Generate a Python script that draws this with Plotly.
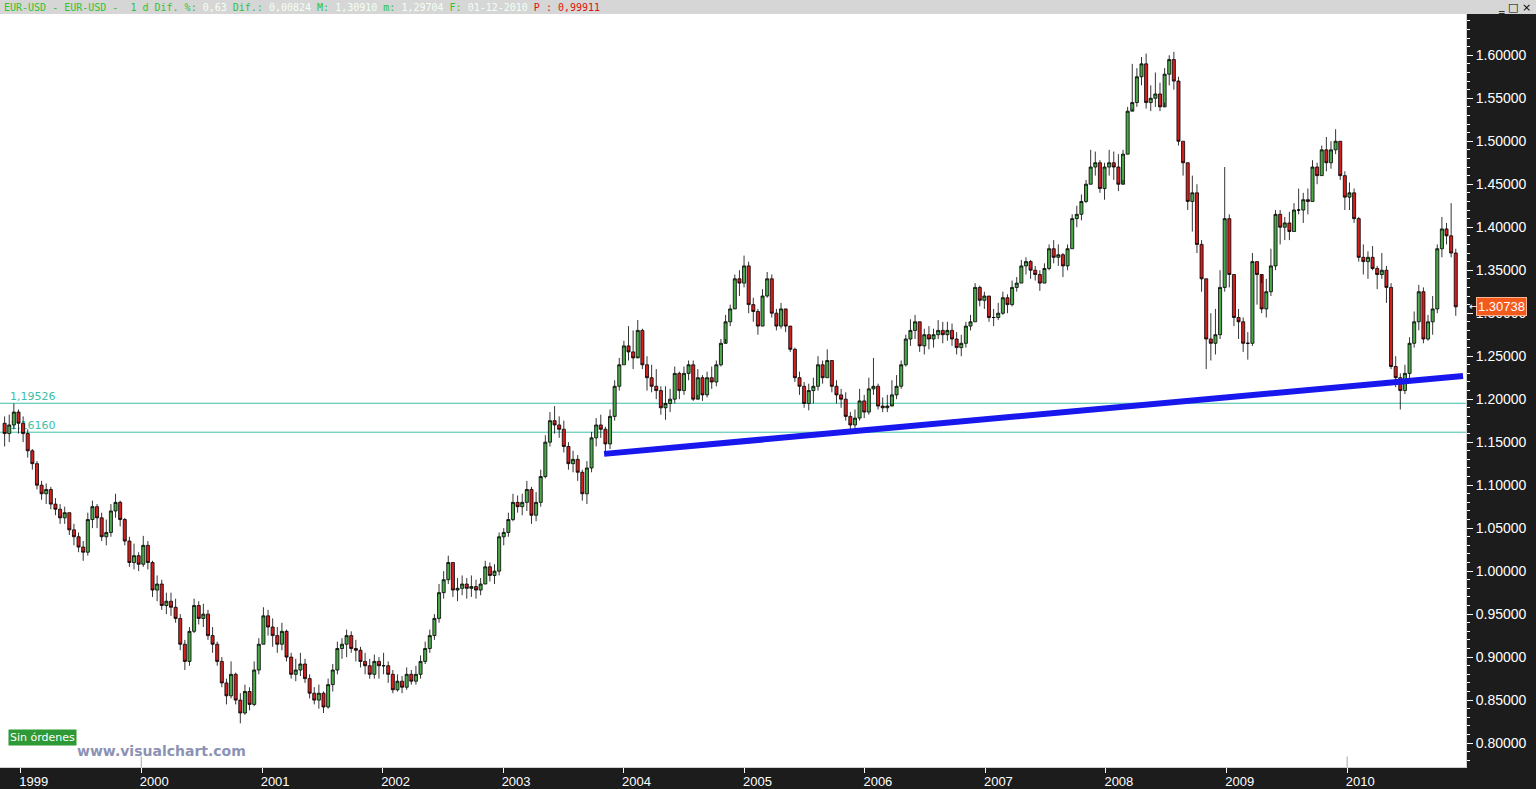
import pandas as pd
import plotly.graph_objects as go

# ---------------- data ----------------
start_date = "1998-11-13"      # first bi-weekly candle
step = "14D"
first_open = 1.172

closes = [
    # 1998
    1.160, 1.170, 1.185, 1.172,
    # 1999
    1.160, 1.140, 1.125, 1.100, 1.090, 1.095, 1.078, 1.072, 1.062, 1.068, 1.048, 1.040, 1.028,
    1.022, 1.060, 1.075, 1.062, 1.040, 1.045, 1.070, 1.080, 1.060, 1.035, 1.010, 1.018, 1.008,
    # 2000
    1.030, 1.010, 0.978, 0.985, 0.960, 0.965, 0.958, 0.945, 0.915, 0.895, 0.930, 0.960, 0.945,
    0.950, 0.925, 0.915, 0.895, 0.870, 0.855, 0.880, 0.850, 0.835, 0.860, 0.845, 0.885, 0.915,
    # 2001
    0.948, 0.935, 0.925, 0.915, 0.930, 0.900, 0.880, 0.885, 0.892, 0.875, 0.858, 0.850, 0.858,
    0.842, 0.868, 0.885, 0.910, 0.915, 0.925, 0.910, 0.908, 0.895, 0.890, 0.880, 0.895, 0.890,
    # 2002
    0.890, 0.880, 0.862, 0.872, 0.865, 0.880, 0.872, 0.880, 0.895, 0.910, 0.925, 0.945, 0.975,
    0.990, 1.010, 0.978, 0.980, 0.985, 0.980, 0.982, 0.978, 0.985, 1.005, 0.995, 1.000, 1.040,
    # 2003
    1.045, 1.060, 1.080, 1.075, 1.080, 1.095, 1.065, 1.080, 1.110, 1.150, 1.175, 1.170, 1.165,
    1.145, 1.125, 1.130, 1.115, 1.090, 1.120, 1.155, 1.170, 1.165, 1.148, 1.180, 1.215, 1.240,
    # 2004
    1.262, 1.255, 1.248, 1.280, 1.240, 1.225, 1.215, 1.210, 1.190, 1.195, 1.200, 1.230, 1.210,
    1.230, 1.240, 1.200, 1.225, 1.205, 1.225, 1.220, 1.240, 1.265, 1.290, 1.305, 1.340, 1.335, 1.355,
    # 2005
    1.310, 1.302, 1.285, 1.320, 1.340, 1.300, 1.285, 1.305, 1.285, 1.258, 1.225, 1.215, 1.195,
    1.210, 1.215, 1.240, 1.225, 1.245, 1.215, 1.205, 1.200, 1.180, 1.170, 1.178, 1.198, 1.185,
    # 2006
    1.212, 1.215, 1.192, 1.190, 1.192, 1.205, 1.215, 1.240, 1.270, 1.280, 1.290, 1.262, 1.275,
    1.270, 1.275, 1.280, 1.275, 1.280, 1.270, 1.260, 1.265, 1.285, 1.290, 1.330, 1.315, 1.320,
    # 2007
    1.295, 1.295, 1.300, 1.318, 1.310, 1.330, 1.335, 1.355, 1.360, 1.350, 1.345, 1.335, 1.352,
    1.375, 1.365, 1.368, 1.355, 1.375, 1.410, 1.415, 1.430, 1.450, 1.470, 1.475, 1.445, 1.470,
    # 2008
    1.475, 1.470, 1.450, 1.485, 1.535, 1.545, 1.575, 1.590, 1.545, 1.550, 1.555, 1.540, 1.578,
    1.595, 1.570, 1.500, 1.475, 1.430, 1.440, 1.380, 1.340, 1.270, 1.265, 1.275, 1.330, 1.410,
    # 2009
    1.345, 1.295, 1.290, 1.265, 1.265, 1.360, 1.345, 1.305, 1.325, 1.355, 1.415, 1.400, 1.405,
    1.395, 1.420, 1.420, 1.432, 1.430, 1.470, 1.460, 1.490, 1.475, 1.490, 1.500, 1.460, 1.435,
    # 2010
    1.440, 1.410, 1.365, 1.360, 1.365, 1.352, 1.345, 1.350, 1.330, 1.238, 1.225, 1.210, 1.230,
    1.265, 1.290, 1.325, 1.270, 1.290, 1.305, 1.375, 1.398, 1.390, 1.370, 1.3074,
]

highs = [
    # 1998
    1.180, 1.182, 1.195, 1.188,
    # 1999
    1.180, 1.165, 1.142, 1.128, 1.105, 1.102, 1.098, 1.085, 1.078, 1.075, 1.068, 1.055, 1.045,
    1.035, 1.068, 1.082, 1.078, 1.068, 1.060, 1.078, 1.090, 1.082, 1.062, 1.040, 1.032, 1.022,
    # 2000
    1.041, 1.035, 1.012, 0.995, 0.990, 0.975, 0.975, 0.968, 0.950, 0.920, 0.935, 0.968, 0.965,
    0.962, 0.955, 0.935, 0.918, 0.900, 0.875, 0.895, 0.882, 0.858, 0.868, 0.865, 0.895, 0.922,
    # 2001
    0.958, 0.955, 0.945, 0.935, 0.940, 0.932, 0.905, 0.898, 0.905, 0.898, 0.880, 0.865, 0.868,
    0.860, 0.875, 0.892, 0.918, 0.922, 0.932, 0.930, 0.920, 0.912, 0.905, 0.898, 0.903, 0.900,
    # 2002
    0.905, 0.895, 0.885, 0.880, 0.878, 0.888, 0.885, 0.890, 0.902, 0.918, 0.932, 0.950, 0.985,
    1.000, 1.018, 1.010, 0.992, 0.995, 0.992, 0.995, 0.990, 0.992, 1.012, 1.010, 1.008, 1.045,
    # 2003
    1.050, 1.068, 1.090, 1.088, 1.090, 1.105, 1.098, 1.092, 1.118, 1.158, 1.185, 1.192, 1.180,
    1.175, 1.150, 1.140, 1.135, 1.118, 1.128, 1.162, 1.178, 1.182, 1.168, 1.188, 1.222, 1.248,
    # 2004
    1.268, 1.285, 1.280, 1.292, 1.282, 1.250, 1.240, 1.235, 1.215, 1.215, 1.212, 1.238, 1.232,
    1.238, 1.245, 1.245, 1.235, 1.228, 1.232, 1.238, 1.245, 1.270, 1.298, 1.310, 1.345, 1.350, 1.367,
    # 2005
    1.360, 1.318, 1.305, 1.328, 1.348, 1.345, 1.305, 1.312, 1.305, 1.285, 1.260, 1.232, 1.220,
    1.218, 1.225, 1.250, 1.245, 1.258, 1.245, 1.222, 1.212, 1.208, 1.185, 1.188, 1.212, 1.205,
    # 2006
    1.225, 1.248, 1.218, 1.202, 1.205, 1.222, 1.228, 1.245, 1.275, 1.293, 1.298, 1.290, 1.282,
    1.285, 1.282, 1.292, 1.290, 1.290, 1.288, 1.278, 1.275, 1.290, 1.298, 1.335, 1.332, 1.325,
    # 2007
    1.320, 1.305, 1.312, 1.325, 1.322, 1.338, 1.342, 1.362, 1.365, 1.362, 1.355, 1.350, 1.358,
    1.380, 1.385, 1.380, 1.370, 1.380, 1.415, 1.425, 1.438, 1.455, 1.490, 1.488, 1.478, 1.475,
    # 2008
    1.490, 1.488, 1.485, 1.490, 1.540, 1.590, 1.585, 1.598, 1.602, 1.565, 1.580, 1.568, 1.585,
    1.600, 1.604, 1.575, 1.500, 1.475, 1.460, 1.450, 1.385, 1.340, 1.300, 1.305, 1.350, 1.470,
    # 2009
    1.415, 1.345, 1.305, 1.295, 1.278, 1.370, 1.360, 1.335, 1.340, 1.375, 1.420, 1.420, 1.412,
    1.418, 1.428, 1.445, 1.440, 1.445, 1.478, 1.475, 1.495, 1.505, 1.500, 1.514, 1.500, 1.465,
    # 2010
    1.452, 1.445, 1.412, 1.380, 1.372, 1.378, 1.355, 1.370, 1.355, 1.335, 1.250, 1.230, 1.240,
    1.272, 1.302, 1.333, 1.330, 1.298, 1.320, 1.380, 1.412, 1.405, 1.428, 1.375,
]

lows = [
    # 1998
    1.145, 1.150, 1.165, 1.160,
    # 1999
    1.150, 1.132, 1.118, 1.095, 1.083, 1.078, 1.072, 1.065, 1.055, 1.055, 1.042, 1.030, 1.022,
    1.012, 1.018, 1.050, 1.050, 1.035, 1.030, 1.040, 1.062, 1.052, 1.030, 1.005, 1.002, 1.000,
    # 2000
    1.005, 1.002, 0.970, 0.965, 0.955, 0.950, 0.948, 0.940, 0.908, 0.885, 0.890, 0.928, 0.938,
    0.935, 0.920, 0.905, 0.890, 0.865, 0.845, 0.852, 0.845, 0.823, 0.833, 0.838, 0.843, 0.880,
    # 2001
    0.915, 0.925, 0.912, 0.905, 0.908, 0.895, 0.875, 0.872, 0.878, 0.870, 0.852, 0.845, 0.840,
    0.835, 0.840, 0.860, 0.880, 0.898, 0.900, 0.905, 0.895, 0.888, 0.880, 0.875, 0.875, 0.875,
    # 2002
    0.880, 0.870, 0.858, 0.860, 0.858, 0.862, 0.868, 0.868, 0.875, 0.892, 0.905, 0.920, 0.940,
    0.968, 0.985, 0.970, 0.965, 0.972, 0.968, 0.970, 0.968, 0.972, 0.985, 0.988, 0.985, 0.995,
    # 2003
    1.030, 1.040, 1.058, 1.068, 1.065, 1.070, 1.055, 1.058, 1.075, 1.108, 1.145, 1.160, 1.155,
    1.138, 1.118, 1.115, 1.105, 1.082, 1.078, 1.115, 1.145, 1.155, 1.137, 1.142, 1.175, 1.210,
    # 2004
    1.240, 1.245, 1.235, 1.250, 1.235, 1.210, 1.208, 1.200, 1.182, 1.176, 1.185, 1.195, 1.200,
    1.205, 1.222, 1.198, 1.205, 1.198, 1.202, 1.212, 1.215, 1.238, 1.270, 1.285, 1.305, 1.320, 1.330,
    # 2005
    1.300, 1.290, 1.275, 1.285, 1.318, 1.295, 1.280, 1.282, 1.278, 1.255, 1.220, 1.205, 1.190,
    1.187, 1.195, 1.210, 1.218, 1.225, 1.208, 1.195, 1.190, 1.175, 1.164, 1.165, 1.175, 1.178,
    # 2006
    1.182, 1.205, 1.188, 1.185, 1.185, 1.195, 1.200, 1.212, 1.238, 1.262, 1.270, 1.255, 1.252,
    1.258, 1.260, 1.270, 1.265, 1.268, 1.262, 1.252, 1.250, 1.260, 1.280, 1.290, 1.308, 1.305,
    # 2007
    1.290, 1.285, 1.292, 1.298, 1.300, 1.308, 1.325, 1.335, 1.345, 1.340, 1.338, 1.326, 1.335,
    1.350, 1.358, 1.355, 1.342, 1.350, 1.375, 1.400, 1.408, 1.428, 1.450, 1.460, 1.440, 1.432,
    # 2008
    1.460, 1.455, 1.442, 1.455, 1.485, 1.538, 1.540, 1.565, 1.538, 1.535, 1.540, 1.535, 1.545,
    1.565, 1.560, 1.495, 1.460, 1.420, 1.395, 1.370, 1.325, 1.235, 1.245, 1.252, 1.270, 1.325,
    # 2009
    1.330, 1.285, 1.270, 1.255, 1.246, 1.262, 1.310, 1.300, 1.295, 1.320, 1.350, 1.380, 1.385,
    1.385, 1.395, 1.415, 1.405, 1.415, 1.430, 1.450, 1.460, 1.465, 1.468, 1.485, 1.455, 1.420,
    # 2010
    1.420, 1.405, 1.360, 1.345, 1.340, 1.350, 1.328, 1.340, 1.312, 1.235, 1.214, 1.188, 1.206,
    1.220, 1.260, 1.280, 1.265, 1.268, 1.275, 1.300, 1.365, 1.380, 1.365, 1.297,
]

year_labels = ["1999", "2000", "2001", "2002", "2003", "2004", "2005",
               "2006", "2007", "2008", "2009", "2010"]
x_range = ["1998-10-30", "2010-12-27"]
y_range = [0.7722, 1.6480]

level_values = [1.19526, 1.16160]
level_labels = ["1,19526", "1,16160"]

trend_dates = ["2003-11-03", "2010-12-18"]
trend_values = [1.1364, 1.2270]

decade_marks = ["2000-01-01", "2010-01-01"]
last_price = 1.30738

header_parts = [
    ("EUR-USD - EUR-USD -  1 d Dif. %: ", "#2fc42f"),
    ("0,63 ", "#f4fff4"),
    ("Dif.: ", "#2fc42f"),
    ("0,00824 ", "#f4fff4"),
    ("M: ", "#2fc42f"),
    ("1,30910 ", "#f4fff4"),
    ("m: ", "#2fc42f"),
    ("1,29704 ", "#f4fff4"),
    ("F: ", "#2fc42f"),
    ("01-12-2010 ", "#f4fff4"),
    ("P : 0,99911", "#e01010"),
]

# ---------------- figure ----------------
dates = pd.date_range(start_date, periods=len(closes), freq=step)
opens = [first_open] + closes[:-1]

NARROW = "Liberation Sans Narrow, Liberation Sans, Arial Narrow, sans-serif"
TEAL = "#3cc0a8"

W, H = 1536, 789
ML, MR, MT, MB = 0, 70, 14, 20
PW, PH = W - ML - MR, H - MT - MB

fig = go.Figure()
fig.add_trace(go.Candlestick(
    x=dates, open=opens, high=highs, low=lows, close=closes,
    increasing=dict(fillcolor="#4ba84b", line=dict(color="#000000", width=0.8)),
    decreasing=dict(fillcolor="#d21f1f", line=dict(color="#000000", width=0.8)),
    whiskerwidth=0, hoverinfo="skip", showlegend=False,
))

shapes = []
# header bar
shapes.append(dict(type="rect", xref="paper", yref="paper",
                   x0=-ML / PW, x1=(W - ML) / PW, y0=1, y1=1 + MT / PH,
                   fillcolor="#d6d6d6", line=dict(width=0), layer="above"))
# horizontal levels (line + label carrier, both under the candles)
for v, lab in zip(level_values, level_labels):
    shapes.append(dict(type="line", xref="paper", yref="y", x0=0, x1=1, y0=v, y1=v,
                       line=dict(color=TEAL, width=1), layer="below"))
    shapes.append(dict(type="line", xref="paper", yref="y", x0=10 / PW, x1=60 / PW,
                       y0=v, y1=v, line=dict(color="rgba(0,0,0,0)", width=0), layer="below",
                       label=dict(text=lab, textposition="start", xanchor="left",
                                  yanchor="bottom", padding=1,
                                  font=dict(color=TEAL, size=11, family="DejaVu Sans"))))
# trend line
shapes.append(dict(type="line", xref="x", yref="y",
                   x0=trend_dates[0], x1=trend_dates[1],
                   y0=trend_values[0], y1=trend_values[1],
                   line=dict(color="#1717ee", width=6), layer="above"))
# decade markers
for d in decade_marks:
    shapes.append(dict(type="line", xref="x", yref="paper", x0=d, x1=d, y0=0, y1=0.014,
                       line=dict(color="#a8a8a8", width=1), layer="above"))

annotations = []
header_html = "".join(f"<span style='color:{c}'>{t}</span>" for t, c in header_parts)
annotations.append(dict(xref="paper", yref="paper", x=2 / PW, y=1 + (MT / 2) / PH,
                        xanchor="left", yanchor="middle", showarrow=False,
                        text=header_html,
                        font=dict(family="DejaVu Sans Mono, monospace", size=10)))
annotations.append(dict(xref="paper", yref="paper", x=(1514 - ML) / PW, y=1 + (MT / 2) / PH,
                        xanchor="center", yanchor="middle", showarrow=False,
                        text="‗ □ ×", font=dict(family="DejaVu Sans", size=11, color="#000000")))
# last price tag
annotations.append(dict(xref="paper", yref="y", x=(1476 - ML) / PW, y=last_price,
                        xanchor="left", yanchor="middle", showarrow=False,
                        text=f"{last_price:.5f}", bgcolor="#f25a1e", bordercolor="#ffb590",
                        borderwidth=1, borderpad=1,
                        font=dict(family=NARROW, size=13, color="#ffffff")))
annotations.append(dict(xref="paper", yref="y", x=(1467 - ML) / PW, y=last_price,
                        xanchor="left", yanchor="middle", showarrow=False,
                        text="←", font=dict(family="DejaVu Sans", size=10, color="#ffffff")))
# bottom-left labels
annotations.append(dict(xref="paper", yref="paper", x=8 / PW, y=(769 - 739) / PH,
                        xanchor="left", yanchor="middle", showarrow=False,
                        text="Sin órdenes", bgcolor="#2e9a36", borderpad=1,
                        font=dict(family="DejaVu Sans", size=11, color="#ffffff")))
annotations.append(dict(xref="paper", yref="paper", x=75 / PW, y=(769 - 753) / PH,
                        xanchor="left", yanchor="middle", showarrow=False,
                        text="<b>www.visualchart.com</b>",
                        font=dict(family="DejaVu Sans", size=14, color="#8c92b4")))

fig.update_layout(
    width=W, height=H,
    margin=dict(l=ML, r=MR, t=MT, b=MB, pad=0),
    paper_bgcolor="#1c1c1c", plot_bgcolor="#ffffff",
    boxgap=0.05, showlegend=False, hovermode=False,
    shapes=shapes, annotations=annotations,
    xaxis=dict(type="date", range=x_range, rangeslider=dict(visible=False),
               showgrid=False, zeroline=False,
               tickvals=[f"{y}-01-01" for y in year_labels], ticktext=year_labels,
               ticks="outside", ticklen=5, tickcolor="#ffffff", tickwidth=1,
               ticklabelshift=13, ticklabelstandoff=-3,
               tickfont=dict(family=NARROW, size=13, color="#ffffff"),
               showline=True, linecolor="#cfcfcf", linewidth=1),
    yaxis=dict(side="right", range=y_range, tick0=0.8, dtick=0.05, tickformat=".5f",
               showgrid=False, zeroline=False,
               ticks="outside", ticklen=6, tickcolor="#ffffff", tickwidth=1,
               minor=dict(dtick=0.01, ticks="outside", ticklen=3, tickcolor="#ffffff",
                          showgrid=False),
               tickfont=dict(family=NARROW, size=14, color="#ffffff"),
               showline=True, linecolor="#cfcfcf", linewidth=1),
)

fig.write_html("out.html", config={"displayModeBar": False},
               post_script="document.body.style.margin='0px';document.body.style.overflow='hidden';")
